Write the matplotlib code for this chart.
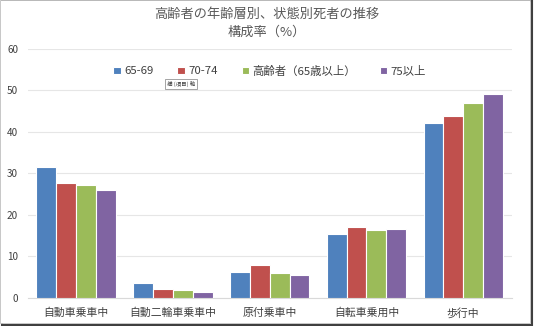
import matplotlib
matplotlib.use("Agg")
import matplotlib.pyplot as plt
import numpy as np
from matplotlib.patches import Rectangle

plt.rcParams['font.family'] = ['Noto Sans CJK JP', 'DejaVu Sans']

categories = ["自動車乗車中", "自動二輪車乗車中", "原付乗車中", "自転車乗用中", "歩行中"]
series = ["65-69", "70-74", "高齢者（65歳以上）", "75以上"]
v_65_69 = [31.6, 3.6, 6.3, 15.4, 42.2]
v_70_74 = [27.7, 2.2, 8.0, 17.1, 43.9]
v_65up = [27.2, 1.9, 6.0, 16.4, 47.0]
v_75up = [26.0, 1.4, 5.5, 16.6, 49.2]
colors = ["#4F81BD", "#C0504D", "#9BBB59", "#8064A2"]

fig = plt.figure(figsize=(5.34, 3.26), dpi=100)
ax = fig.add_axes([0.052, 0.086, 0.906, 0.764])

x = np.arange(len(categories))
w = 0.205
for i, (vals, c, lab) in enumerate(zip([v_65_69, v_70_74, v_65up, v_75up], colors, series)):
    ax.bar(x + (i - 1.5) * w, vals, width=w, color=c, edgecolor="white", lw=0.8, label=lab, zorder=3)

ax.set_xlim(-0.5, 4.5)
ax.set_ylim(0, 60)
ax.set_yticks(range(0, 61, 10))
ax.set_xticks(x)
ax.set_xticklabels(categories)
ax.grid(axis="y", color="#E6E6E6", lw=0.8, zorder=0)
for s in ["top", "right", "left"]:
    ax.spines[s].set_visible(False)
ax.spines["bottom"].set_color("#D9D9D9")
ax.tick_params(axis="x", length=0, labelsize=7.8, colors="#404040", pad=7)
ax.tick_params(axis="y", length=0, labelsize=7.2, colors="#404040", pad=7)

ax.legend(loc="upper center", bbox_to_anchor=(0.5, 0.975), ncol=4, frameon=False,
          fontsize=8.2, handlelength=0.65, handleheight=0.65, columnspacing=2.1,
          labelcolor="#404040", handletextpad=0.3)

fig.text(0.5, 0.955, "高齢者の年齢層別、状態別死者の推移", ha="center", va="center",
         fontsize=9.5, color="#595959")
fig.text(0.5, 0.902, "構成率（%）", ha="center", va="center", fontsize=9.5, color="#595959")

fig.text(0.339, 0.742, "横 (項目) 軸", ha="center", va="center", fontsize=4, color="#404040",
         bbox=dict(boxstyle="square,pad=0.3", fc="white", ec="#808080", lw=0.5))

# frame with drop shadow
fig.patches.append(Rectangle((0.004, 0.004), 0.992, 0.992, transform=fig.transFigure,
                             fill=False, ec="#404040", lw=1.5, zorder=-3))
fig.patches.append(Rectangle((0.0, 0.008), 0.993, 0.992, transform=fig.transFigure,
                             fc="white", ec="#BFBFBF", lw=0.6, zorder=-2))

fig.savefig("out.png", dpi=100)
